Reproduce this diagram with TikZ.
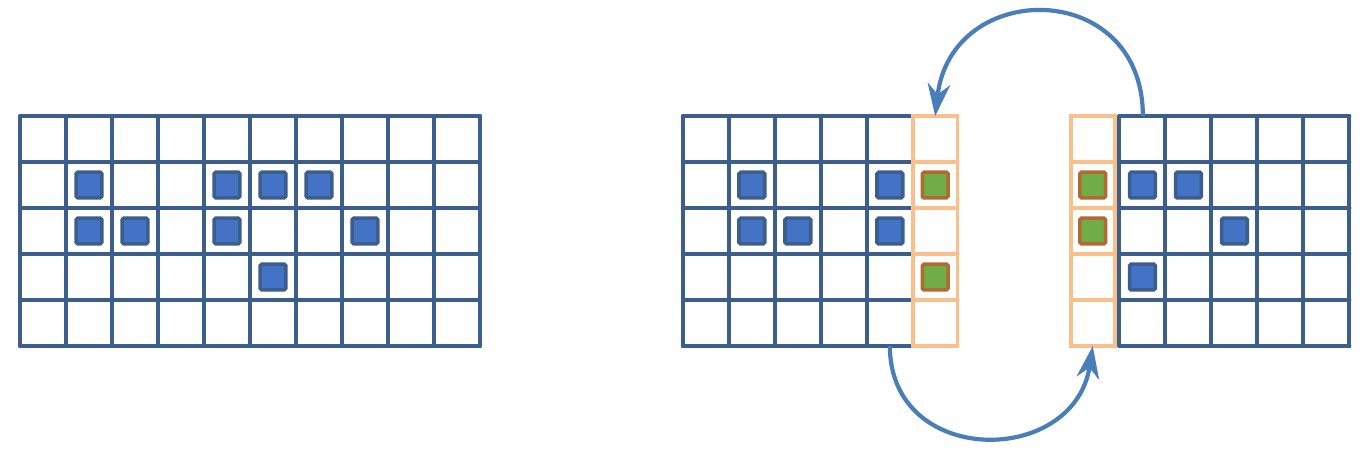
\documentclass[tikz,border=0pt]{standalone}
\usetikzlibrary{arrows.meta}

\definecolor{gridblue}{HTML}{3B5E8C}
\definecolor{cellblue}{HTML}{4472C4}
\definecolor{haloorange}{HTML}{F9C08C}
\definecolor{ghostgreen}{HTML}{70AD47}
\definecolor{ghostbrown}{HTML}{B06A32}
\definecolor{arrowblue}{HTML}{4A7EBB}

\tikzset{
  gridline/.style={gridblue, line width=2.4pt, line cap=round},
  haloline/.style={haloorange, line width=2.4pt, line cap=round},
  cell/.style={draw=gridblue, fill=cellblue, line width=2.2pt, rounded corners=1pt},
  ghost/.style={draw=ghostbrown, fill=ghostgreen, line width=2.2pt, rounded corners=1pt},
  swap/.style={arrowblue, line width=2.6pt, -{Stealth[length=20pt, width=14pt]}}
}

\begin{document}
\begin{tikzpicture}
  \useasboundingbox (-0.435,-2.26) rectangle (29.239,7.523);

  % whole field
  \foreach \i in {0,...,10} \draw[gridline] (\i,0) -- (\i,5);
  \foreach \j in {0,...,5} \draw[gridline] (0,\j) -- (10,\j);
  \foreach \c/\r in {1/1,4/1,5/1,6/1,1/2,2/2,4/2,7/2,5/3}
    \draw[cell] (\c+0.22,4.22-\r) rectangle ++(0.56,0.56);

  % left half with halo column
  \begin{scope}[xshift=14.41cm]
    \foreach \i in {0,...,5} \draw[gridline] (\i,0) -- (\i,5);
    \foreach \j in {0,...,5} \draw[gridline] (0,\j) -- (5,\j);
    \foreach \c/\r in {1/1,4/1,1/2,2/2,4/2}
      \draw[cell] (\c+0.22,4.22-\r) rectangle ++(0.56,0.56);
    \draw[haloline] (5,0) rectangle (5.97,5);
    \foreach \j in {1,...,4} \draw[haloline] (5,\j) -- (5.97,\j);
    \foreach \r in {1,3}
      \draw[ghost] (5.205,4.22-\r) rectangle ++(0.56,0.56);
    \coordinate (lsrc) at (4.5,0);
    \coordinate (ldst) at (5.485,5);
  \end{scope}

  % right half with halo column
  \begin{scope}[xshift=22.84cm]
    \draw[haloline] (0,0) rectangle (0.96,5);
    \foreach \j in {1,...,4} \draw[haloline] (0,\j) -- (0.96,\j);
    \foreach \r in {1,2}
      \draw[ghost] (0.2,4.22-\r) rectangle ++(0.56,0.56);
    \coordinate (rdst) at (0.48,0);
  \end{scope}
  \begin{scope}[xshift=23.9cm]
    \foreach \i in {0,...,5} \draw[gridline] (\i,0) -- (\i,5);
    \foreach \j in {0,...,5} \draw[gridline] (0,\j) -- (5,\j);
    \foreach \c/\r in {0/1,1/1,2/2,0/3}
      \draw[cell] (\c+0.22,4.22-\r) rectangle ++(0.56,0.56);
    \coordinate (rsrc) at (0.51,5);
  \end{scope}

  % halo exchange
  \draw[swap] (rsrc) .. controls ++(0,3) and ++(0.35,3) .. (ldst);
  \draw[swap] (lsrc) .. controls ++(0,-2.64) and ++(-0.4,-2.64) .. (rdst);
\end{tikzpicture}
\end{document}
